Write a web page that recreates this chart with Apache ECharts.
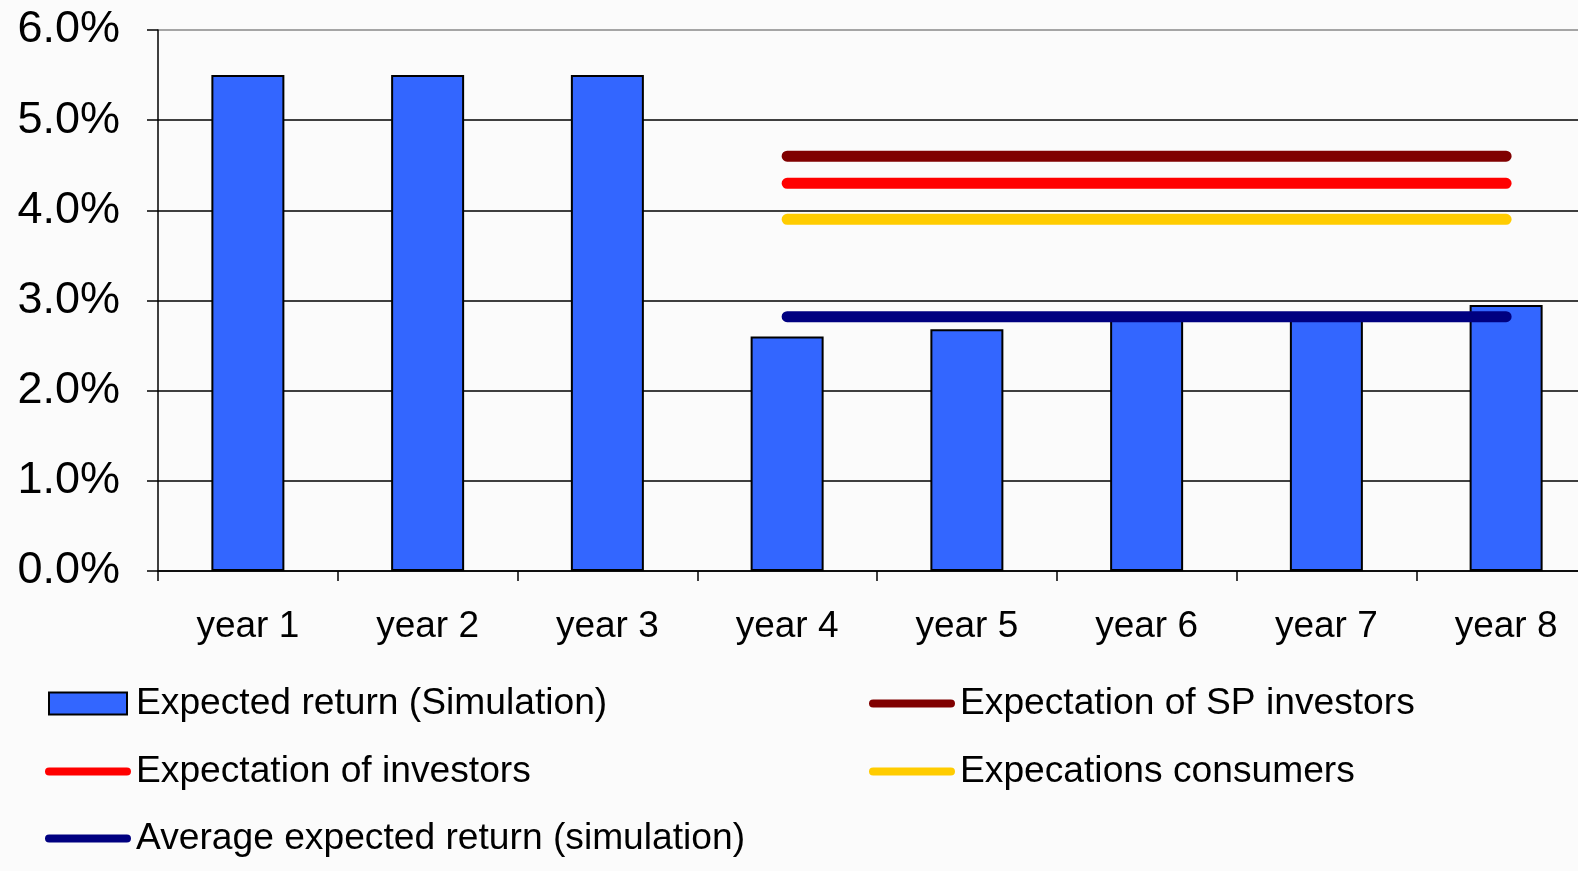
<!DOCTYPE html>
<html>
<head>
<meta charset="utf-8">
<script src="https://cdn.jsdelivr.net/npm/echarts@6/dist/echarts.min.js"></script>
<style>
html,body{margin:0;padding:0;background:#fbfbfb;overflow:hidden;}
#chart{width:1596px;height:871px;}
</style>
</head>
<body>
<div id="chart"></div>
<script>
const categories = ['year 1','year 2','year 3','year 4','year 5','year 6','year 7','year 8'];
const expectedReturn = [5.5, 5.5, 5.5, 2.6, 2.68, 2.8, 2.8, 2.95];
const spInvestors = [null, null, null, 4.6, 4.6, 4.6, 4.6, 4.6];
const investors = [null, null, null, 4.3, 4.3, 4.3, 4.3, 4.3];
const consumers = [null, null, null, 3.9, 3.9, 3.9, 3.9, 3.9];
const avgReturn = [null, null, null, 2.82, 2.82, 2.82, 2.82, 2.82];
const seriesNames = ['Expected return (Simulation)', 'Expectation of SP investors', 'Expectation of investors', 'Expecations consumers', 'Average expected return (simulation)'];

const FONT = 'Liberation Sans, Arial, sans-serif';
const pill = 'path://M4,0 H80 A4,4 0 0 1 80,8 H4 A4,4 0 0 1 4,0 Z';

function lineSeries(name, data, color) {
  return {
    name: name, type: 'line', data: data, color: color,
    showSymbol: false, symbol: 'none', z: 5,
    lineStyle: { width: 11, color: color, cap: 'round' }
  };
}
function lineLegend(name, left, top) {
  return {
    data: [{ name: name, icon: pill }], left: left, top: top,
    itemWidth: 86, itemHeight: 10, itemGap: 0,
    textStyle: { fontSize: 37.2, color: '#000', fontFamily: FONT, padding: [0, 0, 0, 0] }
  };
}

const chart = echarts.init(document.getElementById('chart'));
chart.setOption({
  animation: false,
  backgroundColor: '#fbfbfb',
  grid: { left: 158, top: 30, right: 0, bottom: 300, containLabel: false, show: false },
  xAxis: {
    type: 'category', data: categories, boundaryGap: true,
    axisLine: { lineStyle: { color: '#000', width: 1.5 } },
    axisTick: { show: true, length: 10, interval: 0, lineStyle: { color: '#000', width: 1.5 } },
    axisLabel: { fontSize: 37, color: '#000', fontFamily: FONT, margin: 37, interval: 0 },
    splitLine: { show: false }
  },
  yAxis: {
    type: 'value', min: 0, max: 6, interval: 1,
    axisLine: { show: true, lineStyle: { color: '#000', width: 1.5 } },
    axisTick: { show: true, length: 11, lineStyle: { color: '#000', width: 1.5 } },
    axisLabel: { fontSize: 45, color: '#000', fontFamily: FONT, margin: 38, formatter: v => v.toFixed(1) + '%' },
    splitLine: { show: true, lineStyle: { color: ['#000','#000','#000','#000','#000','#000','#888'], width: 1.5 } }
  },
  legend: [
    {
      data: [{ name: seriesNames[0], icon: 'rect' }], left: 43, top: 680,
      itemWidth: 78, itemHeight: 22,
      itemStyle: { borderColor: '#000', borderWidth: 2 },
      textStyle: { fontSize: 37.2, color: '#000', fontFamily: FONT, padding: [0, 0, 0, 4] }
    },
    lineLegend(seriesNames[2], 40, 748),
    lineLegend(seriesNames[4], 40, 815),
    lineLegend(seriesNames[1], 864, 680),
    lineLegend(seriesNames[3], 864, 748)
  ],
  series: [
    {
      name: seriesNames[0], type: 'bar', data: expectedReturn, barWidth: 73,
      itemStyle: { color: '#3366FF', borderColor: '#000', borderWidth: 2 }, z: 2
    },
    lineSeries(seriesNames[1], spInvestors, '#800000'),
    lineSeries(seriesNames[2], investors, '#FF0000'),
    lineSeries(seriesNames[3], consumers, '#FFCC00'),
    lineSeries(seriesNames[4], avgReturn, '#000080')
  ]
});
</script>
</body>
</html>
